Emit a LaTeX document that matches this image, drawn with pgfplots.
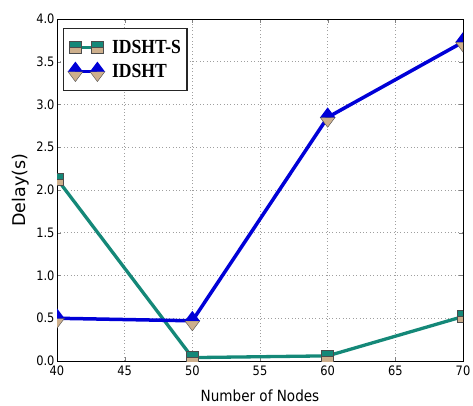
\documentclass[border=0pt]{standalone}
\usepackage{pgfplots}
\pgfplotsset{compat=1.18}
\usepackage{fontspec}
\setmainfont[FakeStretch=0.88]{DejaVu Sans}
\newfontfamily\ylabfont{DejaVu Sans}
\newfontfamily\legfont[FakeStretch=0.88]{Liberation Serif}

\definecolor{tealc}{RGB}{20,136,120}
\definecolor{bluec}{RGB}{0,0,215}
\definecolor{tanc}{RGB}{205,175,140}

% half-filled marks like the matplotlib ones
\pgfdeclareplotmark{hsq}{%
  \pgfpathrectangle{\pgfpoint{-\pgfplotmarksize}{-\pgfplotmarksize}}{\pgfpoint{2\pgfplotmarksize}{2\pgfplotmarksize}}
  \pgfsetfillcolor{tanc}\pgfusepath{fill,stroke}
  \pgfpathrectangle{\pgfpoint{-\pgfplotmarksize}{0pt}}{\pgfpoint{2\pgfplotmarksize}{\pgfplotmarksize}}
  \pgfsetfillcolor{tealc}\pgfusepath{fill,stroke}}
\pgfdeclareplotmark{hdia}{%
  \pgfpathmoveto{\pgfpoint{-0.75\pgfplotmarksize}{0pt}}
  \pgfpathlineto{\pgfpoint{0pt}{-\pgfplotmarksize}}
  \pgfpathlineto{\pgfpoint{0.75\pgfplotmarksize}{0pt}}
  \pgfpathclose
  \pgfsetfillcolor{tanc}\pgfusepath{fill,stroke}
  \pgfpathmoveto{\pgfpoint{-0.75\pgfplotmarksize}{0pt}}
  \pgfpathlineto{\pgfpoint{0pt}{\pgfplotmarksize}}
  \pgfpathlineto{\pgfpoint{0.75\pgfplotmarksize}{0pt}}
  \pgfpathclose
  \pgfsetfillcolor{bluec}\pgfusepath{fill}}

\begin{document}
\begin{tikzpicture}
\begin{axis}[
    name=ax,
    scale only axis,
    width=406pt, height=342pt,
    xmin=40, xmax=70, ymin=0, ymax=4,
    xtick={40,45,...,70},
    ytick={0,0.5,...,4},
    yticklabel style={xshift=1pt, /pgf/number format/.cd,fixed,fixed zerofill,precision=1},
    /pgf/number format/assume math mode=true,
    ticklabel style={font=\fontsize{13}{15}\selectfont},
    xticklabel style={yshift=-1pt},
    xlabel={Number of Nodes},
    ylabel={Delay(s)},
    xlabel style={font=\fontsize{15.4}{17}\selectfont, yshift=-8pt},
    ylabel style={font=\ylabfont\fontsize{17.5}{19}\selectfont, yshift=0pt},
    grid=major,
    major grid style={gray!75, dash pattern=on 0.8pt off 2.6pt, line width=0.6pt},
    tick align=inside,
    major tick length=4pt,
    axis line style={line width=0.8pt},
    clip marker paths=true,
    legend style={at={(0.015,0.973)}, anchor=north west, draw=black!85,
      line width=1.2pt, font=\legfont\bfseries\fontsize{20}{22}\selectfont,
      inner xsep=4pt, inner ysep=9pt, row sep=5pt, cells={anchor=west},
      /tikz/every odd column/.append style={column sep=5pt}},
    legend image code/.code={\draw[#1] plot coordinates {(0pt,0pt) (22pt,0pt)};},
  ]
\addplot[tealc, line width=3.3pt, mark=hsq, mark size=6pt,
  mark options={draw=black!70, line width=0.4pt}]
  coordinates {(40,2.13) (50,0.04) (60,0.06) (70,0.52)};
\addlegendentry{IDSHT-S\hspace{3pt}}
\addplot[bluec, line width=3.5pt, mark=hdia, mark size=10pt,
  mark options={draw=black!70, line width=0.4pt}]
  coordinates {(40,0.50) (50,0.47) (60,2.85) (70,3.73)};
\addlegendentry{IDSHT}
\end{axis}
\pgfresetboundingbox
\path[use as bounding box] ([xshift=-57pt,yshift=-44pt]ax.south west) rectangle ([xshift=10pt,yshift=19pt]ax.north east);
\end{tikzpicture}
\end{document}
